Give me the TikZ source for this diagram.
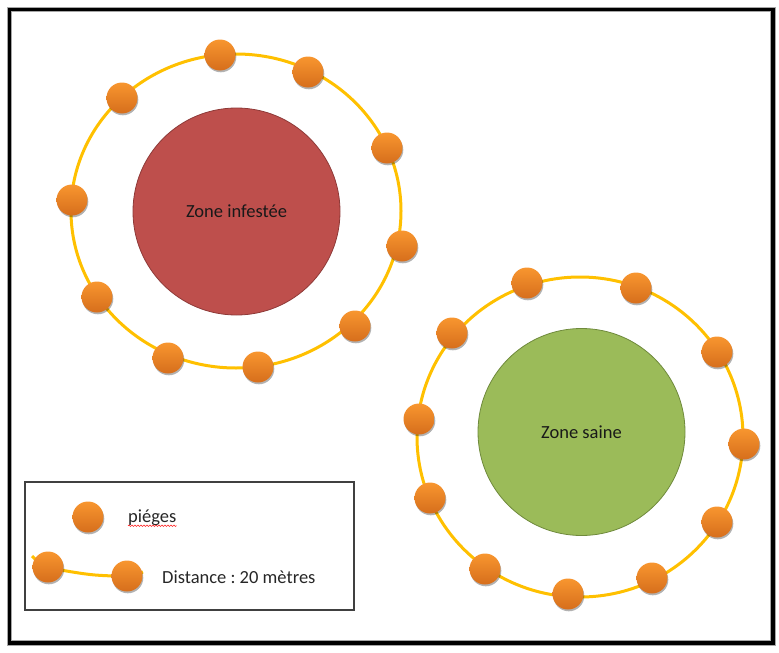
\documentclass[tikz,border=0pt]{standalone}
\usepackage{fontspec}
\setmainfont{Carlito}
\frenchspacing
\usetikzlibrary{shadows,decorations.pathmorphing}
\definecolor{ringc}{HTML}{FFC000}
\definecolor{traptop}{HTML}{F8962F}
\definecolor{trapbot}{HTML}{D66E1C}
\definecolor{zred}{HTML}{BE4F4C}
\definecolor{zredb}{HTML}{8E3A38}
\definecolor{zgreen}{HTML}{9BBB59}
\definecolor{zgreenb}{HTML}{6F8A3C}
\tikzset{
  ring/.style={draw=ringc, line width=3pt},
  trap/.style={circle, minimum size=31pt, inner sep=0pt, top color=traptop, bottom color=trapbot,
    drop shadow={shadow xshift=0.8pt, shadow yshift=-1.8pt, opacity=0.3, fill=black}},
  zone/.style={circle, minimum size=207pt, inner sep=0pt, line width=0.8pt,
    font=\fontsize{18.5}{22}\selectfont, text=black!90},
  legtext/.style={anchor=west, inner sep=0pt, font=\fontsize{18.5}{22}\selectfont, text=black!85},
  frameline/.style={draw=black, line width=3.6pt},
  legbox/.style={draw=black!75, line width=1.8pt, minimum width=329pt, minimum height=128pt, inner sep=0pt}
}
\begin{document}
\begin{tikzpicture}[x=1pt,y=-1pt]
\useasboundingbox (0,0) rectangle (779,653);
% outer frame
\draw[draw=black!35, line width=5.5pt] (9.5,9.5) rectangle (773,643);
\draw[frameline] (9.5,9.5) rectangle (773,643);

% zones
\node[zone, fill=zred, draw=zredb] (infest) at (236.5,211.5) {Zone infestée};
\node[zone, fill=zgreen, draw=zgreenb] (saine) at (581.5,432) {Zone saine};

% ring 1
\coordinate (c1) at (236,211);
\draw[ring] (c1) ellipse [x radius=165, y radius=157];
\foreach \i/\p in {1/{(220,55)},2/{(308,72)},3/{(387,148)},4/{(402,246)},5/{(355,326)},
                   6/{(258,367)},7/{(168,358)},8/{(97,297)},9/{(72,200)},10/{(122,98)}}
  { \node[trap] (T\i) at \p {}; }

% ring 2
\coordinate (c2) at (580,437);
\draw[ring] (c2) ellipse [x radius=163, y radius=160];
\foreach \i/\p in {1/{(527,283)},2/{(636,288)},3/{(717,352)},4/{(744,444)},5/{(717,522)},
                   6/{(652,578)},7/{(568,594)},8/{(485,569)},9/{(430,498)},10/{(419,419)},11/{(452,333)}}
  { \node[trap] (S\i) at \p {}; }

% legend
\node[legbox] (legend) at (189.5,546) {};
\node[trap] (LT) at (88,517) {};
\node[legtext] (pieges) at (128,518) {piéges};
\draw[red!85, line width=0.6pt, decorate, decoration={snake, amplitude=0.7pt, segment length=3pt}]
  ([yshift=-3pt]pieges.base west) -- ([yshift=-3pt]pieges.base east);
\coordinate (la) at (32,556);
\coordinate (lm) at (90,574.5);
\coordinate (lb) at (143,572);
\coordinate (l1) at (48,567);
\coordinate (l2) at (127,576);
\draw[ring] plot[smooth] coordinates {(la) (l1) (lm) (l2) (lb)};
\node[trap] (L1) at (l1) {};
\node[trap] (L2) at (l2) {};
\node[legtext] (dist) at (162,577) {Distance : 20 mètres};
\end{tikzpicture}
\end{document}
